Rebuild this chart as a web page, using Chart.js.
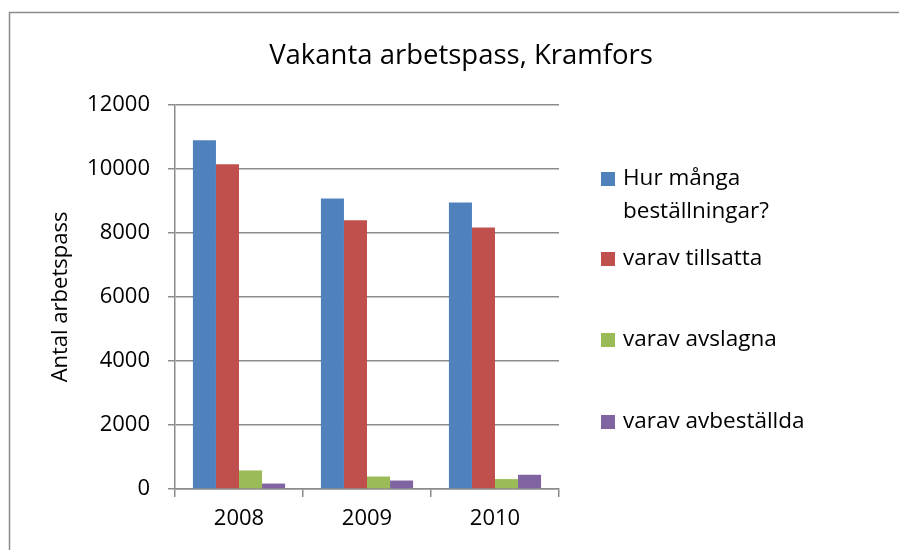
<!DOCTYPE html>
<html>
<head>
<meta charset="utf-8">
<script src="https://cdn.jsdelivr.net/npm/chart.js@4.4.1/dist/chart.umd.min.js"></script>
<style>
  html, body { margin: 0; padding: 0; background: #fff; }
  #wrap { width: 899px; height: 550px; position: relative; }
</style>
</head>
<body>
<div id="wrap"><canvas id="chart"></canvas></div>
<script>
// data
const years = ['2008', '2009', '2010'];
const seriesNames = ['Hur många beställningar?', 'varav tillsatta', 'varav avslagna', 'varav avbeställda'];
const bestallningar = [10900, 9080, 8950];
const tillsatta = [10150, 8400, 8170];
const avslagna = [580, 390, 310];
const avbestallda = [170, 265, 445];
const colors = ['#4F81BD', '#C0504D', '#9BBB59', '#8064A2'];
const yTicks = [0, 2000, 4000, 6000, 8000, 10000, 12000];

const FONT = '"Open Sans", "Liberation Sans", sans-serif';
const gridColor = '#8c8c8c';

// frame, title and legend drawn by hand
const decor = {
    id: 'decor',
    beforeDraw(chart) {
        const ctx = chart.ctx;
        ctx.save();
        ctx.fillStyle = '#fff';
        ctx.fillRect(0, 0, chart.width, chart.height);
        ctx.strokeStyle = '#8a8a8a';
        ctx.lineWidth = 1.5;
        ctx.strokeRect(9.5, 12.5, chart.width + 20, chart.height + 20);
        ctx.restore();
    },
    afterDraw(chart) {
        const ctx = chart.ctx;
        ctx.save();
        ctx.fillStyle = '#000';
        ctx.font = '27.5px ' + FONT;
        ctx.textAlign = 'center';
        ctx.textBaseline = 'middle';
        ctx.fillText('Vakanta arbetspass, Kramfors', 461, 56);

        // legend
        ctx.font = '22.5px ' + FONT;
        ctx.textAlign = 'left';
        const ys = [179, 259, 340, 422];
        chart.data.datasets.forEach((ds, i) => {
            const lines = wrap(ctx, ds.label, 215);
            const y = ys[i];
            ctx.fillStyle = ds.backgroundColor;
            ctx.fillRect(601, y - 7, 14, 14);
            ctx.fillStyle = '#000';
            lines.forEach((ln, k) => ctx.fillText(ln, 623, y + k * 33));
        });
        ctx.restore();
    }
};

function wrap(ctx, text, maxW) {
    const words = text.split(' ');
    const out = [];
    let cur = '';
    words.forEach(w => {
        const t = cur ? cur + ' ' + w : w;
        if (ctx.measureText(t).width > maxW && cur) {
            out.push(cur);
            cur = w;
        } else {
            cur = t;
        }
    });
    if (cur) out.push(cur);
    return out;
}

const values = [bestallningar, tillsatta, avslagna, avbestallda];

new Chart(document.getElementById('chart'), {
    type: 'bar',
    data: {
        labels: years,
        datasets: seriesNames.map((name, i) => ({
            label: name,
            data: values[i],
            backgroundColor: colors[i],
            borderWidth: 0
        }))
    },
    options: {
        responsive: true,
        maintainAspectRatio: false,
        animation: false,
        events: [],
        layout: { padding: { left: 0, top: 105, right: 340, bottom: 0 } },
        datasets: { bar: { categoryPercentage: 0.72, barPercentage: 1.0 } },
        plugins: { legend: { display: false }, tooltip: { enabled: false } },
        scales: {
            x: {
                offset: true,
                grid: {
                    offset: true,
                    drawOnChartArea: false,
                    drawTicks: true,
                    tickLength: 8,
                    color: gridColor,
                    lineWidth: 1.5
                },
                border: { color: gridColor, width: 1.5 },
                ticks: {
                    color: '#000',
                    font: { family: FONT, size: 22 },
                    padding: 9
                },
                afterFit(scale) { scale.height = 61; }
            },
            y: {
                min: 0,
                max: 12000,
                afterBuildTicks(scale) { scale.ticks = yTicks.map(v => ({ value: v })); },
                grid: {
                    color: gridColor,
                    lineWidth: 1.5,
                    tickLength: 7
                },
                border: { color: gridColor, width: 1.5 },
                ticks: {
                    color: '#000',
                    font: { family: FONT, size: 22 },
                    padding: 18,
                    callback: v => String(v)
                },
                title: {
                    display: true,
                    text: 'Antal arbetspass',
                    color: '#000',
                    font: { family: FONT, size: 22 },
                    padding: { top: 48, bottom: 0 }
                },
                afterFit(scale) { scale.width = 175; }
            }
        }
    },
    plugins: [decor]
});
</script>
</body>
</html>
